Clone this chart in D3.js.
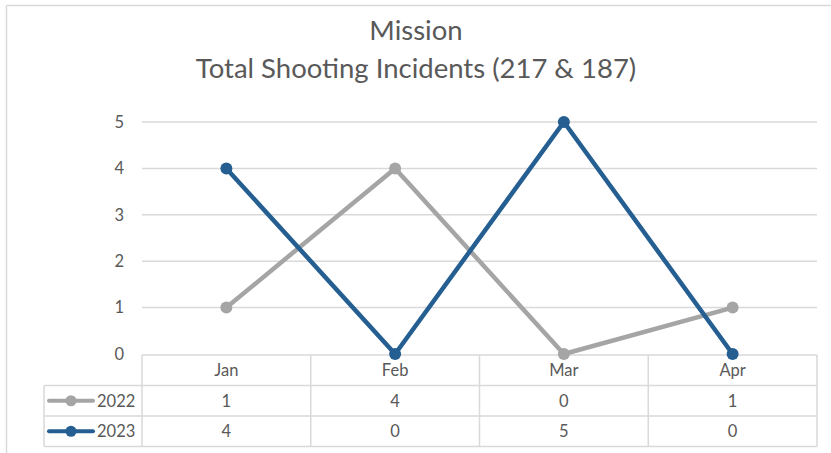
<html>
<head>
<script src="https://d3js.org/d3.v7.min.js"></script>
<style>
  body { margin: 0; background: #fff; }
  text { font-family: Lato, "Open Sans", sans-serif; fill: #595959; }
</style>
</head>
<body>
<svg width="831" height="453"></svg>
<script>
// chart values
var months = ["Jan", "Feb", "Mar", "Apr"];
var series = ["2022", "2023"];
var values2022 = [1, 4, 0, 1];
var values2023 = [4, 0, 5, 0];
var yTicks = [0, 1, 2, 3, 4, 5];
var titleLines = ["Mission", "Total Shooting Incidents (217 & 187)"];

var colors = { "2022": "#a5a5a5", "2023": "#255e91" };
var rows = [
  { name: series[0], values: values2022 },
  { name: series[1], values: values2023 }
];

var svg = d3.select("svg");

// outer chart border (top and left only visible)
svg.append("line").attr("x1", 6.5).attr("x2", 831).attr("y1", 5.5).attr("y2", 5.5)
  .attr("stroke", "#d9d9d9").attr("stroke-width", 1.5);
svg.append("line").attr("x1", 6.5).attr("x2", 6.5).attr("y1", 5.5).attr("y2", 453)
  .attr("stroke", "#d9d9d9").attr("stroke-width", 1.5);

// title
svg.selectAll(".title").data(titleLines).enter().append("text")
  .attr("class", "title")
  .attr("x", 416).attr("y", function(d, i) { return 40 + i * 38; })
  .attr("text-anchor", "middle")
  .style("font-size", "27.5px")
  .text(function(d) { return d; });

var plotLeft = 142, plotRight = 817, plotTop = 122, plotBottom = 355;

var x = d3.scaleBand().domain(months).range([plotLeft, plotRight]);
var y = d3.scaleLinear().domain([0, 5]).range([plotBottom - 1, plotTop]);

// gridlines
svg.selectAll(".grid").data(yTicks.filter(function(d) { return d > 0; })).enter().append("line")
  .attr("x1", plotLeft).attr("x2", plotRight)
  .attr("y1", function(d) { return y(d); }).attr("y2", function(d) { return y(d); })
  .attr("stroke", "#d9d9d9").attr("stroke-width", 1.5);

// y axis labels
var yAxis = svg.append("g")
  .attr("transform", "translate(" + plotLeft + ",0)")
  .call(d3.axisLeft(y).tickValues(yTicks).tickFormat(d3.format("d")).tickSize(0).tickPadding(18));
yAxis.select(".domain").remove();
yAxis.selectAll("text").style("font-size", "16.5px").attr("fill", "#595959")
  .style("font-family", "Lato, sans-serif");

// data table
var rowH = 30.5;
var tableTop = plotBottom;
var tableLeft = 44;
var grid = svg.append("g").attr("stroke", "#d9d9d9").attr("stroke-width", 1.5).attr("fill", "none");
grid.append("line").attr("x1", plotLeft).attr("x2", plotRight).attr("y1", tableTop).attr("y2", tableTop);
[1, 2, 3].forEach(function(r) {
  grid.append("line").attr("x1", tableLeft).attr("x2", plotRight)
    .attr("y1", tableTop + r * rowH).attr("y2", tableTop + r * rowH);
});
grid.append("line").attr("x1", tableLeft).attr("x2", tableLeft)
  .attr("y1", tableTop + rowH).attr("y2", tableTop + 3 * rowH);
months.forEach(function(m) {
  grid.append("line").attr("x1", x(m)).attr("x2", x(m))
    .attr("y1", tableTop).attr("y2", tableTop + 3 * rowH);
});
grid.append("line").attr("x1", plotRight).attr("x2", plotRight)
  .attr("y1", tableTop).attr("y2", tableTop + 3 * rowH);

// header row (month names)
svg.selectAll(".month").data(months).enter().append("text")
  .attr("x", function(d) { return x(d) + x.bandwidth() / 2; })
  .attr("y", tableTop + rowH / 2 + 6)
  .attr("text-anchor", "middle")
  .style("font-size", "16.5px")
  .text(function(d) { return d; });

// value rows with legend keys
rows.forEach(function(r, i) {
  var cy = tableTop + (i + 1) * rowH + rowH / 2;
  svg.append("line").attr("x1", 49).attr("x2", 93).attr("y1", cy).attr("y2", cy)
    .attr("stroke", colors[r.name]).attr("stroke-width", 4).attr("stroke-linecap", "round");
  svg.append("circle").attr("cx", 71).attr("cy", cy).attr("r", 5.5).attr("fill", colors[r.name]);
  svg.append("text").attr("x", 97).attr("y", cy + 6).style("font-size", "16.5px").text(r.name);
  svg.selectAll(".v" + r.name).data(r.values).enter().append("text")
    .attr("x", function(d, j) { return x(months[j]) + x.bandwidth() / 2; })
    .attr("y", cy + 6)
    .attr("text-anchor", "middle")
    .style("font-size", "16.5px")
    .text(function(d) { return d; });
});

// lines and markers
var line = d3.line()
  .x(function(d, j) { return x(months[j]) + x.bandwidth() / 2; })
  .y(function(d) { return y(d); });

rows.forEach(function(r) {
  svg.append("path").datum(r.values)
    .attr("d", line)
    .attr("fill", "none")
    .attr("stroke", colors[r.name])
    .attr("stroke-width", 4.5)
    .attr("stroke-linejoin", "round");
  svg.selectAll(".m" + r.name).data(r.values).enter().append("circle")
    .attr("cx", function(d, j) { return x(months[j]) + x.bandwidth() / 2; })
    .attr("cy", function(d) { return y(d); })
    .attr("r", 6)
    .attr("fill", colors[r.name]);
});
</script>
</body>
</html>
